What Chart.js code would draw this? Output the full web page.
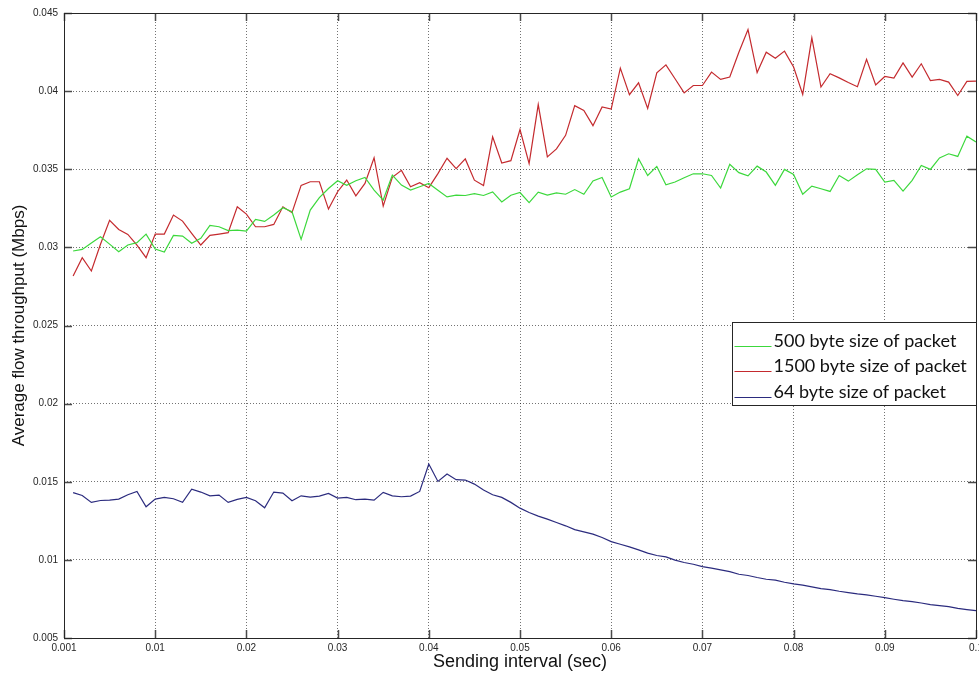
<!DOCTYPE html>
<html>
<head>
<meta charset="utf-8">
<script src="https://cdn.jsdelivr.net/npm/chart.js@4/dist/chart.umd.min.js"></script>
<style>
  html, body { margin: 0; padding: 0; background: #ffffff; }
  #wrap { width: 979px; height: 675px; }
</style>
</head>
<body>
<div id="wrap"><canvas id="c" width="979" height="675"></canvas></div>
<script>
// ---- Data ----
const sendingInterval = [
  0.001,0.002,0.003,0.004,0.005,0.006,0.007,0.008,0.009,0.010,
  0.011,0.012,0.013,0.014,0.015,0.016,0.017,0.018,0.019,0.020,
  0.021,0.022,0.023,0.024,0.025,0.026,0.027,0.028,0.029,0.030,
  0.031,0.032,0.033,0.034,0.035,0.036,0.037,0.038,0.039,0.040,
  0.041,0.042,0.043,0.044,0.045,0.046,0.047,0.048,0.049,0.050,
  0.051,0.052,0.053,0.054,0.055,0.056,0.057,0.058,0.059,0.060,
  0.061,0.062,0.063,0.064,0.065,0.066,0.067,0.068,0.069,0.070,
  0.071,0.072,0.073,0.074,0.075,0.076,0.077,0.078,0.079,0.080,
  0.081,0.082,0.083,0.084,0.085,0.086,0.087,0.088,0.089,0.090,
  0.091,0.092,0.093,0.094,0.095,0.096,0.097,0.098,0.099,0.100
];

const packet500 = [
  0.02977,0.02987,0.03028,0.03068,0.03021,0.02972,0.03015,0.03030,0.03085,0.02989,
  0.02970,0.03077,0.03072,0.03026,0.03058,0.03141,0.03132,0.03107,0.03111,0.03104,
  0.03179,0.03166,0.03207,0.03254,0.03228,0.03051,0.03239,0.03318,0.03377,0.03426,
  0.03397,0.03426,0.03448,0.03367,0.03303,0.03463,0.03399,0.03367,0.03388,0.03409,
  0.03366,0.03323,0.03334,0.03332,0.03344,0.03332,0.03355,0.03291,0.03334,0.03351,
  0.03287,0.03353,0.03334,0.03349,0.03340,0.03370,0.03340,0.03425,0.03447,0.03323,
  0.03354,0.03375,0.03567,0.03460,0.03518,0.03401,0.03418,0.03446,0.03471,0.03471,
  0.03460,0.03380,0.03531,0.03478,0.03458,0.03520,0.03482,0.03397,0.03499,0.03467,
  0.03340,0.03392,0.03375,0.03358,0.03460,0.03424,0.03465,0.03503,0.03499,0.03418,
  0.03429,0.03360,0.03429,0.03524,0.03499,0.03572,0.03599,0.03582,0.03712,0.03674
];

const packet1500 = [
  0.02817,0.02934,0.02849,0.03020,0.03173,0.03115,0.03083,0.03015,0.02934,0.03085,
  0.03085,0.03207,0.03168,0.03090,0.03015,0.03077,0.03085,0.03094,0.03260,0.03213,
  0.03132,0.03132,0.03147,0.03260,0.03222,0.03397,0.03420,0.03420,0.03245,0.03356,
  0.03431,0.03330,0.03409,0.03574,0.03264,0.03448,0.03493,0.03388,0.03414,0.03382,
  0.03472,0.03570,0.03504,0.03566,0.03430,0.03396,0.03707,0.03540,0.03555,0.03754,
  0.03536,0.03914,0.03579,0.03630,0.03717,0.03907,0.03877,0.03779,0.03899,0.03885,
  0.04147,0.03977,0.04053,0.03889,0.04117,0.04168,0.04079,0.03989,0.04036,0.04036,
  0.04122,0.04075,0.04090,0.04249,0.04394,0.04119,0.04249,0.04211,0.04256,0.04154,
  0.03979,0.04341,0.04026,0.04111,0.04085,0.04055,0.04028,0.04203,0.04040,0.04094,
  0.04083,0.04181,0.04090,0.04175,0.04068,0.04075,0.04058,0.03972,0.04062,0.04064
];

const packet64 = [
  0.01430,0.01412,0.01368,0.01380,0.01382,0.01389,0.01417,0.01438,0.01340,0.01389,
  0.01400,0.01391,0.01368,0.01453,0.01434,0.01410,0.01415,0.01368,0.01387,0.01400,
  0.01378,0.01333,0.01434,0.01427,0.01378,0.01410,0.01402,0.01408,0.01425,0.01395,
  0.01400,0.01385,0.01389,0.01382,0.01432,0.01410,0.01404,0.01408,0.01438,0.01613,
  0.01502,0.01549,0.01513,0.01511,0.01485,0.01447,0.01417,0.01400,0.01368,0.01331,
  0.01303,0.01280,0.01261,0.01239,0.01218,0.01194,0.01179,0.01165,0.01143,0.01117,
  0.01100,0.01083,0.01064,0.01043,0.01028,0.01019,0.00998,0.00983,0.00972,0.00957,
  0.00947,0.00936,0.00925,0.00908,0.00900,0.00887,0.00876,0.00870,0.00857,0.00846,
  0.00838,0.00827,0.00816,0.00810,0.00799,0.00790,0.00782,0.00776,0.00767,0.00758,
  0.00748,0.00739,0.00733,0.00724,0.00714,0.00707,0.00701,0.00690,0.00682,0.00675
];

const seriesLabels = ['500 byte size of packet', '1500 byte size of packet', '64 byte size of packet'];

const xTickValues = [0, 0.01, 0.02, 0.03, 0.04, 0.05, 0.06, 0.07, 0.08, 0.09, 0.1];
const xTickLabels = ['0.001', '0.01', '0.02', '0.03', '0.04', '0.05', '0.06', '0.07', '0.08', '0.09', '0.1'];
const yTickValues = [0.005, 0.01, 0.015, 0.02, 0.025, 0.03, 0.035, 0.04, 0.045];
const yTickLabels = ['0.005', '0.01', '0.015', '0.02', '0.025', '0.03', '0.035', '0.04', '0.045'];

const xTitle = 'Sending interval (sec)';
const yTitle = 'Average flow throughput (Mbps)';

// ---- Build ----
const toPoints = (ys) => ys.map((y, i) => ({ x: sendingInterval[i], y }));
const colors = ['#3cd83c', '#c42a2e', '#2b2b7e'];

const boxAndTicks = {
  id: 'boxAndTicks',
  afterDatasetsDraw(chart) {
    const { ctx, chartArea: a, scales: { x, y } } = chart;
    ctx.save();
    ctx.strokeStyle = '#4a4a4a';
    ctx.lineWidth = 1.5;
    const L = 8;
    ctx.beginPath();
    xTickValues.forEach(v => {
      const px = Math.round(x.getPixelForValue(v)) + 0.5;
      ctx.moveTo(px, a.bottom); ctx.lineTo(px, a.bottom - L);
      ctx.moveTo(px, a.top); ctx.lineTo(px, a.top + L);
    });
    yTickValues.forEach(v => {
      const py = Math.round(y.getPixelForValue(v)) + 0.5;
      ctx.moveTo(a.left, py); ctx.lineTo(a.left + L, py);
      ctx.moveTo(a.right, py); ctx.lineTo(a.right - L, py);
    });
    ctx.stroke();
    ctx.lineWidth = 1;
    ctx.strokeStyle = '#262626';
    ctx.strokeRect(Math.round(a.left) + 0.5, Math.round(a.top) + 0.5,
                   Math.round(a.right - a.left), Math.round(a.bottom - a.top));
    ctx.restore();
  }
};

const insideLegend = {
  id: 'insideLegend',
  afterDraw(chart) {
    const { ctx, chartArea: a } = chart;
    const w = 244, h = 83;
    const bx = Math.round(a.right - w) + 0.5, by = Math.round(a.top + 309) + 0.5;
    ctx.save();
    ctx.fillStyle = '#ffffff';
    ctx.fillRect(bx, by, w, h);
    ctx.strokeStyle = '#262626';
    ctx.lineWidth = 1;
    ctx.strokeRect(bx, by, w, h);
    ctx.font = '18px Lato, "Open Sans", sans-serif';
    ctx.textBaseline = 'alphabetic';
    ctx.textAlign = 'left';
    const rows = [24, 49, 75];
    chart.data.datasets.forEach((ds, i) => {
      const ly = Math.round(by + rows[i] - 1) + 0.5;
      ctx.strokeStyle = ds.borderColor;
      ctx.lineWidth = 1.2;
      ctx.beginPath();
      ctx.moveTo(bx + 2, ly); ctx.lineTo(bx + 39, ly);
      ctx.stroke();
      ctx.fillStyle = '#111111';
      ctx.fillText(ds.label, bx + 41, by + rows[i]);
    });
    ctx.restore();
  }
};

const gridOpts = { color: 'rgba(0,0,0,0.55)', lineWidth: 1, drawTicks: false };
const borderOpts = { display: false, dash: [1, 2] };

new Chart(document.getElementById('c'), {
  type: 'line',
  data: {
    datasets: [
      { label: seriesLabels[0], data: toPoints(packet500), borderColor: colors[0] },
      { label: seriesLabels[1], data: toPoints(packet1500), borderColor: colors[1] },
      { label: seriesLabels[2], data: toPoints(packet64), borderColor: colors[2] }
    ].map(d => Object.assign(d, {
      borderWidth: 1.2, pointRadius: 0, fill: false, tension: 0, backgroundColor: d.borderColor
    }))
  },
  options: {
    responsive: false,
    animation: false,
    layout: { padding: { left: 0, top: 13, right: 3, bottom: 0 } },
    plugins: { legend: { display: false }, tooltip: { enabled: false } },
    scales: {
      x: {
        type: 'linear',
        min: 0, max: 0.1,
        afterBuildTicks: s => { s.ticks = xTickValues.map(v => ({ value: v })); },
        afterFit: s => { s.height = 37; s.paddingLeft = 0; s.paddingRight = 0; },
        border: borderOpts,
        grid: gridOpts,
        ticks: {
          autoSkip: false, maxRotation: 0, padding: 4, color: '#262626',
          font: { family: '"Liberation Sans", Arial, sans-serif', size: 10 },
          callback: (v, i) => xTickLabels[i]
        },
        title: { display: true, text: xTitle, color: '#111111',
                 font: { family: '"Liberation Sans", Arial, sans-serif', size: 18 },
                 padding: { top: 0, bottom: 2 } }
      },
      y: {
        type: 'linear',
        min: 0.005, max: 0.045,
        afterBuildTicks: s => { s.ticks = yTickValues.map(v => ({ value: v })); },
        afterFit: s => { s.width = 64; s.paddingTop = 0; s.paddingBottom = 0; },
        border: borderOpts,
        grid: gridOpts,
        ticks: {
          autoSkip: false, padding: 6, color: '#262626',
          font: { family: '"Liberation Sans", Arial, sans-serif', size: 10 },
          callback: (v, i) => yTickLabels[i]
        },
        title: { display: true, text: yTitle, color: '#111111',
                 font: { family: '"Liberation Sans", Arial, sans-serif', size: 17 },
                 padding: { top: 9, bottom: 0 } }
      }
    }
  },
  plugins: [boxAndTicks, insideLegend]
});
</script>
</body>
</html>
